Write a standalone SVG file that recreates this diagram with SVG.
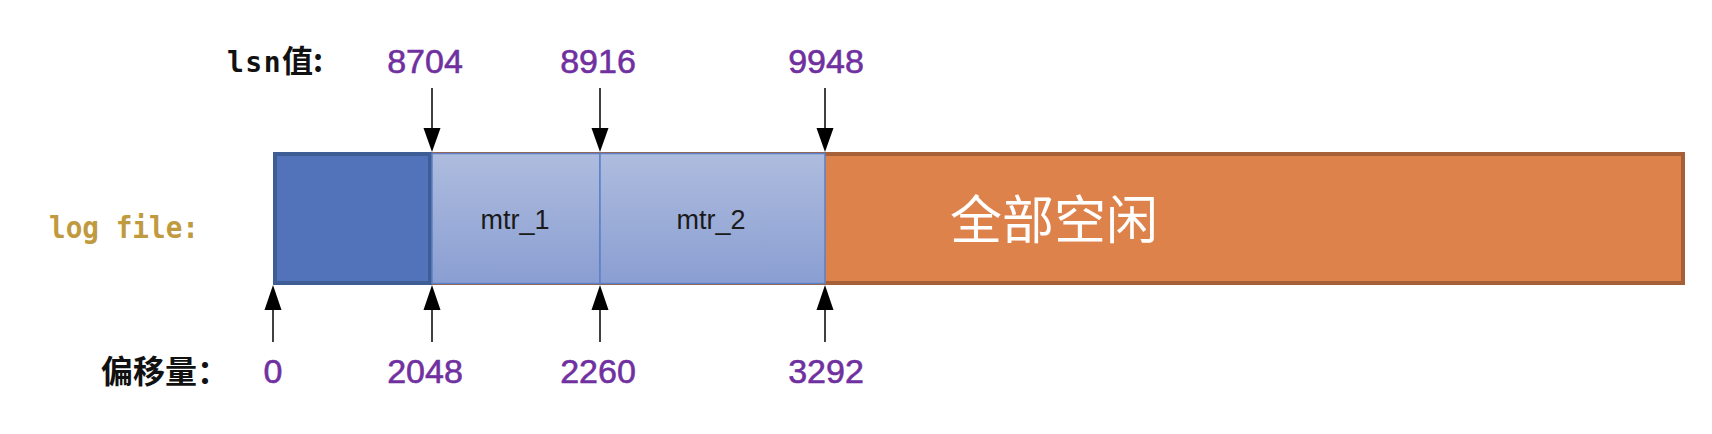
<svg xmlns="http://www.w3.org/2000/svg" width="1712" height="434" viewBox="0 0 1712 434">
<style>
.num{font-family:"Liberation Sans",Arial,sans-serif;font-size:34px;fill:#7030A0;stroke:#7030A0;stroke-width:0.6;text-anchor:middle}
.mtr{font-family:"Liberation Sans",Arial,sans-serif;font-size:27px;fill:#1a1a1a;text-anchor:middle}
.lbl{font-family:"Noto Sans CJK SC",sans-serif;font-weight:bold;font-size:32px;fill:#111}
.mono{font-family:"DejaVu Sans Mono",monospace;font-weight:bold}
.ln{stroke:#000;stroke-width:1.5;fill:none}
.hd{fill:#000}
</style>
<defs>
<linearGradient id="lg" x1="0" y1="0" x2="0" y2="1">
<stop offset="0" stop-color="#AEBCDE"/>
<stop offset="1" stop-color="#8A9ED2"/>
</linearGradient>
</defs>
<rect width="1712" height="434" fill="#fff"/>
<g id="free">
<rect x="275" y="154" width="1408" height="129" fill="#DE824C" stroke="#A65F37" stroke-width="4"/>
<text x="950" y="239" font-family="Noto Sans CJK SC,sans-serif" font-size="52" fill="#fff">全部空闲</text>
</g>
<g id="used">
<rect x="275" y="154" width="155" height="129" fill="#5273BA" stroke="#3F5D95" stroke-width="4"/>
</g>
<g id="mtr_1">
<rect x="432" y="153.5" width="168" height="130" fill="url(#lg)" stroke="#5B80C6" stroke-width="1.5"/>
<text class="mtr" x="515" y="229">mtr_1</text>
</g>
<g id="mtr_2">
<rect x="600" y="153.5" width="225" height="130" fill="url(#lg)" stroke="#5B80C6" stroke-width="1.5"/>
<text class="mtr" x="711" y="229">mtr_2</text>
</g>
<g id="labels">
<text x="227" y="72" class="lbl"><tspan class="mono" font-size="28" letter-spacing="1.5">lsn</tspan><tspan font-size="31">值:</tspan></text>
<text x="49" y="238" class="mono" font-size="31" fill="#BF9A3F" textLength="150" lengthAdjust="spacingAndGlyphs">log file:</text>
<text x="101" y="383" class="lbl">偏移量：</text>
<text class="num" x="425" y="73">8704</text>
<text class="num" x="598" y="73">8916</text>
<text class="num" x="826" y="73">9948</text>
<text class="num" x="273" y="383">0</text>
<text class="num" x="425" y="383">2048</text>
<text class="num" x="598" y="383">2260</text>
<text class="num" x="826" y="383">3292</text>
</g>
<g id="connectors">
<line class="ln" x1="432" y1="88" x2="432" y2="130"/><polygon class="hd" points="423.5,128 440.5,128 432,152"/>
<line class="ln" x1="600" y1="88" x2="600" y2="130"/><polygon class="hd" points="591.5,128 608.5,128 600,152"/>
<line class="ln" x1="825" y1="88" x2="825" y2="130"/><polygon class="hd" points="816.5,128 833.5,128 825,152"/>
<line class="ln" x1="273" y1="342" x2="273" y2="308"/><polygon class="hd" points="264.5,310 281.5,310 273,285"/>
<line class="ln" x1="432" y1="342" x2="432" y2="308"/><polygon class="hd" points="423.5,310 440.5,310 432,285"/>
<line class="ln" x1="600" y1="342" x2="600" y2="308"/><polygon class="hd" points="591.5,310 608.5,310 600,285"/>
<line class="ln" x1="825" y1="342" x2="825" y2="308"/><polygon class="hd" points="816.5,310 833.5,310 825,285"/>
</g>
</svg>
